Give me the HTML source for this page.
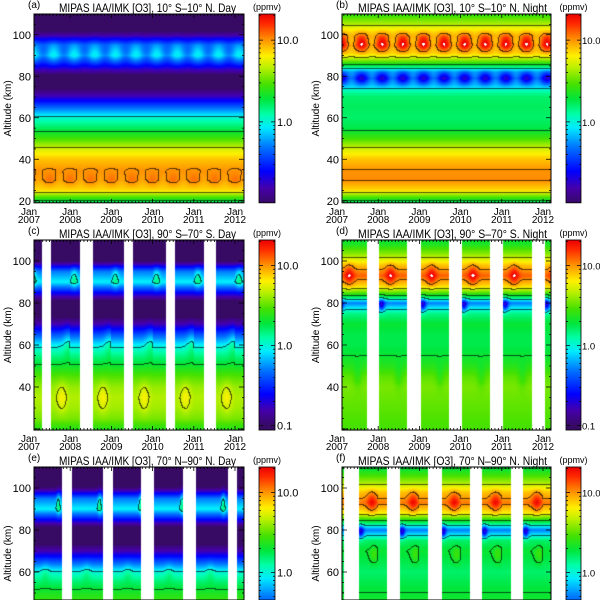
<!DOCTYPE html>
<html><head><meta charset="utf-8">
<style>
html,body{margin:0;padding:0;background:#fff;}
#root{position:relative;width:600px;height:600px;overflow:hidden;font-family:"Liberation Sans",sans-serif;}
canvas{position:absolute;}
svg{position:absolute;left:0;top:0;}
</style></head>
<body>
<div id="root">
<svg id="ov" width="600" height="600"></svg>
</div>
<script>
// ---- data (log10 ppmv profiles per panel) ----
const altsA=[19,22,25,30,35,40,45,50,55,60,65,70,75,80,85,90,95,100,105,110];
const valsA=[0.2,0.5,0.85,1.02,1.0,0.9,0.72,0.45,0.22,0.02,-0.35,-0.75,-1.05,-1.05,-0.6,-0.15,-0.3,-0.85,-1.2,-1.2];
const altsB=[19,22,25,30,35,40,45,50,55,60,65,70,73,76,79,82,85,88,91,95,99,102,105,108,110];
const valsB=[0.2,0.5,0.85,1.02,1.0,0.9,0.72,0.45,0.25,0.2,0.22,0.2,0.08,-0.25,-0.55,-0.3,0.25,0.6,0.9,1.15,1.05,0.85,0.65,0.5,0.4];
const altsC=[19,25,30,35,40,45,50,55,60,65,70,75,80,85,90,95,100,105,110];
const valsC=[0.35,0.55,0.62,0.65,0.6,0.48,0.32,0.15,-0.05,-0.4,-0.8,-1.1,-1.1,-0.6,-0.05,-0.3,-1.0,-1.2,-1.2];
const altsD=[19,30,40,45,50,55,60,65,70,75,78,80,83,88,93,98,103,108,110];
const valsD=[0.45,0.5,0.55,0.5,0.38,0.3,0.25,0.25,0.3,0.15,-0.1,-0.3,0.25,0.85,1.1,0.9,0.6,0.35,0.3];
const altsE=[40,45,50,55,60,65,70,75,80,85,90,95,100,105,110];
const valsE=[0.5,0.45,0.35,0.2,0.0,-0.4,-0.8,-1.1,-1.15,-0.6,-0.05,-0.3,-0.95,-1.2,-1.2];
const altsF=[40,50,55,60,65,70,75,78,80,83,88,93,98,103,108,110];
const valsF=[0.35,0.3,0.25,0.2,0.25,0.3,0.2,-0.1,-0.3,0.15,0.8,1.05,0.9,0.6,0.35,0.25];
const gapsC=[[2007.32,2007.54],[2008.25,2008.55],[2009.31,2009.53],[2010.33,2010.55],[2011.25,2011.55]];
const gapsD=[[2007.73,2008.02],[2008.70,2009.03],[2009.72,2010.03],[2010.71,2011.03],[2011.73,2012.04]];
const gapsE=[[2007.80,2008.04],[2008.80,2009.04],[2009.72,2010.03],[2010.74,2011.05],[2011.83,2012.05]];
const gapsF=[[2007.17,2007.53],[2008.21,2008.53],[2009.21,2009.55],[2010.23,2010.52],[2011.22,2011.51]];
const years=[2007,2008,2009,2010,2011,2012];
const contourLevels=[1,2,5,10];
const cbTicks=[0.1,1.0,10.0];
const cbTickLabels=["0.1","1.0","10.0"];
const altTicks=[20,40,60,80,100];

const stops=[[0,[55,10,100]],[0.08,[70,0,170]],[0.17,[0,0,255]],[0.3,[0,120,255]],[0.4,[0,235,255]],[0.47,[0,255,170]],[0.55,[0,230,60]],[0.63,[70,225,0]],[0.72,[190,240,0]],[0.78,[255,240,0]],[0.87,[255,140,0]],[0.95,[255,40,0]],[1,[235,0,0]]];
const LMIN=-1,LMAX=1.32;
function cmap(l){let t=(l-LMIN)/(LMAX-LMIN);if(t>1.0)return null;if(t<0)t=0;
 for(let i=1;i<stops.length;i++){if(t<=stops[i][0]){const a=stops[i-1],b=stops[i],f=(t-a[0])/(b[0]-a[0]);
 return [0,1,2].map(k=>Math.round(a[1][k]+(b[1][k]-a[1][k])*f));}}return stops[stops.length-1][1];}
function interp(al,vs,z){if(z<=al[0])return vs[0];for(let i=1;i<al.length;i++){if(z<=al[i]){const f=(z-al[i-1])/(al[i]-al[i-1]);return vs[i-1]+(vs[i]-vs[i-1])*f;}}return vs[vs.length-1];}
const G=(z,c,w)=>Math.exp(-((z-c)/w)*((z-c)/w));
const fr=t=>t-Math.floor(t);
const inGap=(g,t)=>g.some(p=>t>=p[0]&&t<=p[1]);

const panels=[
 {id:'a',title:'MIPAS IAA/IMK [O3], 10° S\u201310° N. Day',tl:177,left:true,row:0,
  f:(t,z)=>interp(altsA,valsA,z)+0.12*Math.cos(4*Math.PI*(t-0.1))*G(z,91,5)+0.05*Math.cos(4*Math.PI*t)*G(z,30,3),gaps:[]},
 {id:'b',title:'MIPAS IAA/IMK [O3], 10° S\u201310° N. Night',tl:189,left:false,row:0,
  f:(t,z)=>interp(altsB,valsB,z)+0.2*Math.cos(4*Math.PI*(t-0.1))*G(z,96,4)-0.2*Math.cos(4*Math.PI*(t-0.1))*G(z,79,3),gaps:[]},
 {id:'c',title:'MIPAS IAA/IMK [O3], 90° S\u201370° S. Day',tl:177,left:true,row:1,
  f:(t,z)=>interp(altsC,valsC,z)+0.15*G(fr(t),0.8,0.12)*G(z,35,7)+0.25*G(fr(t),0.1,0.08)*G(z,92,5)+0.15*G(fr(t),0.95,0.12)*G(z,62,8),gaps:gapsC},
 {id:'d',title:'MIPAS IAA/IMK [O3], 90° S\u201370° S. Night',tl:189,left:false,row:1,
  f:(t,z)=>interp(altsD,valsD,z)+0.25*G(fr(t),0.3,0.12)*G(z,93,5)-0.5*G(fr(t),0.08,0.08)*G(z,79,3)-0.1*G(fr(t),0.5,0.1)*G(z,45,6),gaps:gapsD},
 {id:'e',title:'MIPAS IAA/IMK [O3], 70° N\u201390° N. Day',tl:177,left:true,row:2,
  f:(t,z)=>interp(altsE,valsE,z)+0.3*G(fr(t),0.72,0.05)*G(z,93,6)+0.1*G(fr(t),0.4,0.1)*G(z,60,5),gaps:gapsE},
 {id:'f',title:'MIPAS IAA/IMK [O3], 70° N\u201390° N. Night',tl:189,left:false,row:2,
  f:(t,z)=>interp(altsF,valsF,z)+0.25*G(fr(t),0.85,0.12)*G(z,93,5)-0.5*G(fr(t),0.58,0.07)*G(z,79,3)+0.15*G(fr(t),0.9,0.1)*G(z,68,4),gaps:gapsF}
];
const rows=[{top:14,scale:2.075,zmin:19},{top:240,scale:2.1,zmin:19.5},{top:467,scale:2.1,zmin:19}];
const NS='http://www.w3.org/2000/svg';
const ov=document.getElementById('ov');
const root=document.getElementById('root');
function el(tag,attrs,parent){const e=document.createElementNS(NS,tag);for(const k in attrs)e.setAttribute(k,attrs[k]);(parent||ov).appendChild(e);return e;}
function txt(s,x,y,size,anchor,parent){const e=el('text',{x:x,y:y,'font-size':size,'text-anchor':anchor||'start',fill:'#000','font-family':'Liberation Sans, sans-serif'},parent);e.textContent=s;return e;}
const lev=contourLevels.map(v=>Math.log10(v));

panels.forEach(p=>{
 const R=rows[p.row];
 const pl=p.left?34:342, pr=p.left?244:551, x07=p.left?29:337, ys=41.2;
 const cbx=p.left?259:566, cbw=p.left?16:15;
 const top=R.top, bot=Math.min(600,top+(110-R.zmin)*R.scale);
 const X=t=>x07+(t-2007)*ys, T=x=>2007+(x-x07)/ys;
 const Y=z=>top+(110-z)*R.scale, Z=y=>110-(y-top)/R.scale;
 const W=pr-pl, H=Math.round(bot-top);
 const cv=document.createElement('canvas');cv.width=W;cv.height=H;cv.style.left=pl+'px';cv.style.top=top+'px';
 
 
 root.insertBefore(cv,ov);
 const ctx=cv.getContext('2d');const img=ctx.createImageData(W,H);
 const L=new Float32Array(W*H),M=new Uint8Array(W*H);
 for(let i=0;i<W;i++){const t=T(pl+i+0.5);const g=inGap(p.gaps,t);
  for(let j=0;j<H;j++){const k=j*W+i;if(g){M[k]=0;continue;}M[k]=1;L[k]=p.f(t,Z(top+j+0.5));}}
 const idx=v=>{let n=0;for(const l of lev)if(v>=l)n++;return n;};
 for(let i=0;i<W;i++)for(let j=0;j<H;j++){const k=j*W+i,o=k*4;
  if(!M[k]){img.data[o+3]=0;continue;}
  let c=cmap(L[k]);if(!c)c=[255,255,255];
  const n=idx(L[k]);let line=false;
  if(i+1<W&&M[k+1]&&idx(L[k+1])!==n)line=true;
  if(j+1<H&&M[k+W]&&idx(L[k+W])!==n)line=true;
  if(line)c=[c[0]*0.35,c[1]*0.35,c[2]*0.35];
  img.data[o]=c[0];img.data[o+1]=c[1];img.data[o+2]=c[2];img.data[o+3]=255;}
 ctx.putImageData(img,0,0);
 const g=el('g',{});
 el('rect',{x:pl,y:top,width:W,height:bot-top,fill:'none',stroke:'#000','stroke-width':1,},g);
 let d='';
 for(let m=0;m<=64;m++){const x=X(2007+m/12);if(x<pl||x>pr)continue;const L2=(m%12===0)?4:2;d+=`M${x} ${top}v${L2}`;if(bot<600)d+=`M${x} ${bot}v${-L2}`;}
 for(let z=20;z<=110;z+=5){const y=Y(z);if(y>bot)continue;const L2=(z%20===0)?5:2;d+=`M${pl} ${y}h${L2}M${pr} ${y}h${-L2}`;}
 el('path',{d:d,stroke:'#000','stroke-width':0.8,fill:'none',},g);
 altTicks.forEach(z=>{const y=Y(z);if(y>bot-2)return;const t=txt(String(z),pl-3,y+4,11,'end',g);});
 if(bot<600){years.forEach(yr=>{const x=X(yr);const a=txt('Jan',x,bot+12,10,'middle',g);
  const b=txt(String(yr),x,bot+20,10,'middle',g);});}
 const yl=txt('Altitude (km)',0,0,10,'middle',g);yl.setAttribute('transform',`translate(${pl-23},${(top+Math.min(bot,600))/2+(bot>=600?20:0)}) rotate(-90)`);
 
 const cx=p.left?147.5:452.5;
 const ti=txt(p.title,cx,top-2,12,'middle',g);ti.setAttribute('textLength',p.tl);ti.setAttribute('lengthAdjust','spacingAndGlyphs');
 
 const pa=txt('('+p.id+')',pl-6,top-6,10,'start',g);
 const cbH=bot-top;const dec=p.row===0?81.7:80;
 const CY=v=>top+(LMAX-Math.log10(v))*dec;
 const cb=document.createElement('canvas');cb.width=cbw;cb.height=Math.round(cbH);cb.style.left=cbx+'px';cb.style.top=top+'px';
 
 
 root.insertBefore(cb,ov);const cc=cb.getContext('2d');
 for(let j=0;j<cbH;j++){const l=LMAX-(j+0.5)/dec;const c=cmap(Math.max(l,LMIN))||[235,0,0];cc.fillStyle=`rgb(${c[0]},${c[1]},${c[2]})`;cc.fillRect(0,j,cbw,1);}
 el('rect',{x:cbx,y:top,width:cbw,height:cbH,fill:'none',stroke:'#000','stroke-width':0.8,},g);
 let cd='';
 for(let e=-1;e<=1;e++)for(let m=1;m<10;m++){const v=m*Math.pow(10,e);const y=CY(v);if(y<top||y>bot)continue;const L2=m===1?4:2;cd+=`M${cbx} ${y}h${L2}M${cbx+cbw} ${y}h${-L2}`;}
 el('path',{d:cd,stroke:'#000','stroke-width':0.7,fill:'none',},g);
 cbTicks.forEach((v,i)=>{const y=CY(v);if(y>bot-2||y<top)return;const t=txt(cbTickLabels[i],cbx+cbw+(p.left?2:1),y+4,p.left?11:9.5,'start',g);});
 const u=txt('(ppmv)',cbx+cbw/2,top-4,9,'middle',g);
});
</script>
</body></html>
